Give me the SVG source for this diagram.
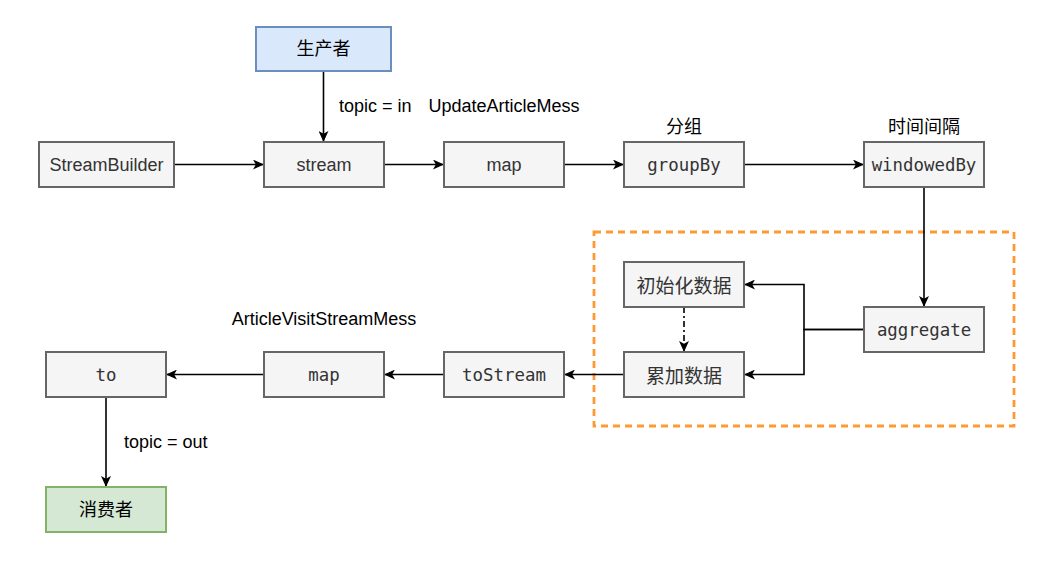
<svg xmlns="http://www.w3.org/2000/svg" width="1057" height="566" viewBox="0 0 1057 566">
<style>
.box{fill:#f5f5f5;stroke:#666666;stroke-width:2}
.t{font-family:"Liberation Sans","Noto Sans CJK SC",sans-serif;font-size:18px;fill:#333333;text-anchor:middle;dominant-baseline:central}
.m{font-family:"DejaVu Sans Mono","Liberation Mono","Noto Sans CJK SC",monospace;font-size:17.4px;fill:#333333;text-anchor:middle;dominant-baseline:central}
.c{font-family:"Noto Sans CJK SC",sans-serif;font-size:19px;fill:#333333;text-anchor:middle;dominant-baseline:central}
.lbl{font-family:"Liberation Sans","Noto Sans CJK SC",sans-serif;font-size:18px;fill:#000000;dominant-baseline:central}
.e{fill:none;stroke:#000000;stroke-width:1.6}
</style>
<defs>
<marker id="arr" viewBox="0 0 10 9" refX="10" refY="4.5" markerWidth="11" markerHeight="10" markerUnits="userSpaceOnUse" orient="auto">
<path d="M10,4.5 L0,0 L2.6,4.5 L0,9 Z" fill="#000000"/>
</marker>
</defs>
<rect x="0" y="0" width="1057" height="566" fill="#ffffff"/>
<g id="group-box">
<rect x="594" y="232" width="420" height="194" fill="none" stroke="#FF9933" stroke-width="2.8" stroke-dasharray="7 5"/>
</g>
<g id="connectors">
<path class="e" d="M323.5,71 L323.5,142" marker-end="url(#arr)"/>
<path class="e" d="M174,164.5 L264,164.5" marker-end="url(#arr)"/>
<path class="e" d="M384,164.5 L444,164.5" marker-end="url(#arr)"/>
<path class="e" d="M564,164.5 L624,164.5" marker-end="url(#arr)"/>
<path class="e" d="M744,164.5 L864,164.5" marker-end="url(#arr)"/>
<path class="e" d="M924,187 L924,307" marker-end="url(#arr)"/>
<path class="e" d="M864,329.5 L804,329.5 L804,284.5 L744,284.5" marker-end="url(#arr)"/>
<path class="e" d="M864,329.5 L804,329.5 L804,374.5 L744,374.5" marker-end="url(#arr)"/>
<path class="e" d="M684,307 L684,352" stroke-dasharray="6 3 2 3" marker-end="url(#arr)"/>
<path class="e" d="M624,374.5 L564,374.5" marker-end="url(#arr)"/>
<path class="e" d="M444,374.5 L384,374.5" marker-end="url(#arr)"/>
<path class="e" d="M264,374.5 L166,374.5" marker-end="url(#arr)"/>
<path class="e" d="M106,397 L106,487" marker-end="url(#arr)"/>
<text class="lbl" x="339" y="106">topic = in</text>
<text class="lbl" x="124" y="442">topic = out</text>
</g>
<g id="labels">
<text class="lbl" x="504" y="106" text-anchor="middle">UpdateArticleMess</text>
<text class="lbl" x="684" y="127" text-anchor="middle">分组</text>
<text class="lbl" x="924" y="127" text-anchor="middle">时间间隔</text>
<text class="lbl" x="324" y="319" text-anchor="middle">ArticleVisitStreamMess</text>
</g>
<g id="producer">
<rect x="256" y="27" width="135" height="44" fill="#dae8fc" stroke="#6c8ebf" stroke-width="2"/>
<text class="lbl" x="323.5" y="49" text-anchor="middle">生产者</text>
</g>
<g id="streambuilder">
<rect class="box" x="39" y="142" width="135" height="45"/>
<text class="t" x="106.5" y="164.5">StreamBuilder</text>
</g>
<g id="stream">
<rect class="box" x="264" y="142" width="120" height="45"/>
<text class="t" x="324" y="164.5">stream</text>
</g>
<g id="map1">
<rect class="box" x="444" y="142" width="120" height="45"/>
<text class="t" x="504" y="164.5">map</text>
</g>
<g id="groupby">
<rect class="box" x="624" y="142" width="120" height="45"/>
<text class="m" x="684" y="164.5">groupBy</text>
</g>
<g id="windowedby">
<rect class="box" x="864" y="142" width="120" height="45"/>
<text class="m" x="924" y="164.5">windowedBy</text>
</g>
<g id="aggregate">
<rect class="box" x="864" y="307" width="120" height="45"/>
<text class="m" x="924" y="329.5">aggregate</text>
</g>
<g id="init">
<rect class="box" x="624" y="262" width="120" height="45"/>
<text class="c" x="684" y="284.5">初始化数据</text>
</g>
<g id="accumulate">
<rect class="box" x="624" y="352" width="120" height="45"/>
<text class="c" x="684" y="374.5">累加数据</text>
</g>
<g id="tostream">
<rect class="box" x="444" y="352" width="120" height="45"/>
<text class="m" x="504" y="374.5">toStream</text>
</g>
<g id="map2">
<rect class="box" x="264" y="352" width="120" height="45"/>
<text class="m" x="324" y="374.5">map</text>
</g>
<g id="to">
<rect class="box" x="46" y="352" width="120" height="45"/>
<text class="m" x="106" y="374.5">to</text>
</g>
<g id="consumer">
<rect x="46" y="487" width="120" height="45" fill="#d5e8d4" stroke="#82b366" stroke-width="2"/>
<text class="lbl" x="106" y="509.5" text-anchor="middle">消费者</text>
</g>
</svg>
